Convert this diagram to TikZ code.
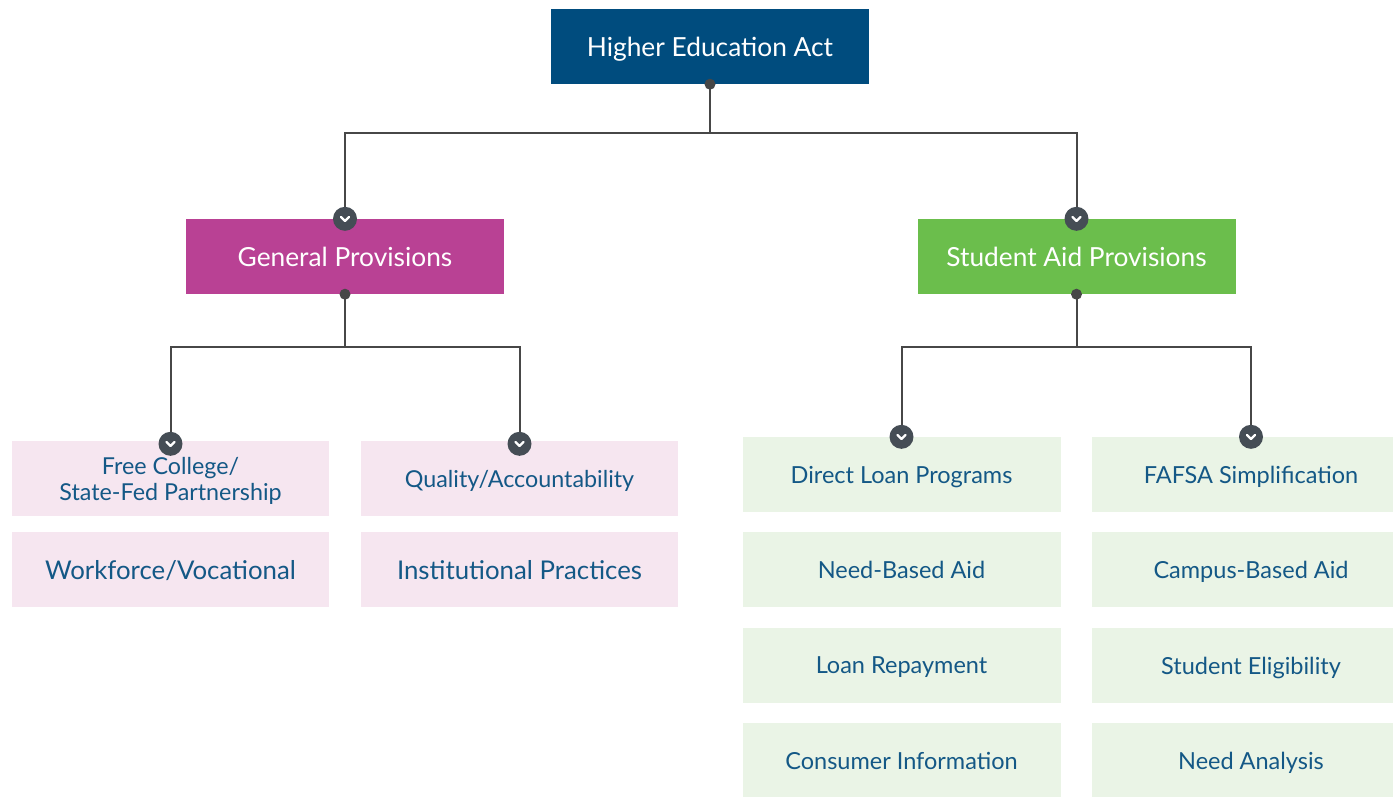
\documentclass[tikz,border=0pt]{standalone}
\usepackage{fontspec}
\setmainfont{Lato}
\definecolor{rootblue}{HTML}{004C7E}
\definecolor{gpmag}{HTML}{B94194}
\definecolor{sagreen}{HTML}{6BBE4C}
\definecolor{pinklt}{HTML}{F6E6F0}
\definecolor{greenlt}{HTML}{EAF4E6}
\definecolor{txtblue}{HTML}{145886}
\definecolor{linegray}{HTML}{474747}
\definecolor{chevgray}{HTML}{454D55}
\tikzset{
  mainbox/.style={draw=none, minimum width=318pt, minimum height=75pt, inner sep=0pt, text depth=0pt, text=white, font=\fontsize{26.3}{30}\selectfont, align=center},
  pinkbox/.style={fill=pinklt, minimum width=317pt, minimum height=75pt, inner sep=0pt, text depth=0pt, text=txtblue, align=center},
  greenbox/.style={fill=greenlt, minimum width=318pt, minimum height=75pt, inner sep=0pt, text depth=0pt, text=txtblue, align=center, font=\fontsize{23.5}{27}\selectfont},
  conn/.style={draw=linegray, line width=2pt},
  dotmark/.style={circle, fill=linegray, inner sep=0pt, minimum size=11pt},
  chev/.style={circle, fill=chevgray, inner sep=0pt, minimum size=24pt,
    path picture={\draw[white, line width=2.2pt, line cap=round, line join=round]
      ([shift={(-4pt,1.8pt)}]path picture bounding box.center) -- ([shift={(0pt,-2.2pt)}]path picture bounding box.center) -- ([shift={(4pt,1.8pt)}]path picture bounding box.center);}},
}
\begin{document}
\begin{tikzpicture}[x=1pt,y=-1pt]
\useasboundingbox (0,0) rectangle (1393,796);
\begin{scope}
\clip (0,0) rectangle (1393,796);
% main boxes
\node[mainbox, fill=rootblue] (root) at (710,46.5) {Higher Education Act};
\node[mainbox, fill=gpmag] (gp) at (345,256.5) {General Provisions};
\node[mainbox, fill=sagreen] (sa) at (1076.5,256.5) {Student Aid Provisions};
% general provisions children
\node[pinkbox, font=\fontsize{23.3}{26}\selectfont] (fc) at (170.5,478.5) {Free College/\\State-Fed Partnership};
\node[pinkbox, font=\fontsize{23.3}{27}\selectfont] (qa) at (519.5,478.5) {Quality/Accountability};
\node[pinkbox, font=\fontsize{25.8}{30}\selectfont] (wv) at (170.5,569.5) {Workforce/Vocational};
\node[pinkbox, font=\fontsize{25.8}{30}\selectfont] (ip) at (519.5,569.5) {Institutional Practices};
% student aid children
\node[greenbox] (dl) at (901.5,474.5) {Direct Loan Programs};
\node[greenbox] (ff) at (1251,474.5) {FAFSA Simplification};
\node[greenbox] (nb) at (901.5,569.5) {Need-Based Aid};
\node[greenbox] (cb) at (1251,569.5) {Campus-Based Aid};
\node[greenbox] (lr) at (901.5,665.5) {Loan Repayment};
\node[greenbox] (se) at (1251,665.5) {Student Eligibility};
\node[greenbox] (ci) at (901.5,760.5) {Consumer Information};
\node[greenbox] (na) at (1251,760.5) {Need Analysis};
% connectors
\coordinate (j0) at (710,133);
\coordinate (j1) at (345,347);
\coordinate (j2) at (1076.5,347);
\draw[conn] (root.south) -- (j0);
\draw[conn] (j0) -| (gp.north);
\draw[conn] (j0) -| (sa.north);
\draw[conn] (gp.south) -- (j1);
\draw[conn] (j1) -| ([yshift=-3pt]fc.north);
\draw[conn] (j1) -| ([yshift=-3pt]qa.north);
\draw[conn] (sa.south) -- (j2);
\draw[conn] (j2) -| (dl.north);
\draw[conn] (j2) -| (ff.north);
% dots and chevrons
\node[dotmark] (d0) at (root.south) {};
\node[dotmark] (d1) at (gp.south) {};
\node[dotmark] (d2) at (sa.south) {};
\node[chev] (c1) at (gp.north) {};
\node[chev] (c2) at (sa.north) {};
\node[chev] (c3) at ([yshift=-3pt]fc.north) {};
\node[chev] (c4) at ([yshift=-3pt]qa.north) {};
\node[chev] (c5) at (dl.north) {};
\node[chev] (c6) at (ff.north) {};
\end{scope}
\end{tikzpicture}
\end{document}
